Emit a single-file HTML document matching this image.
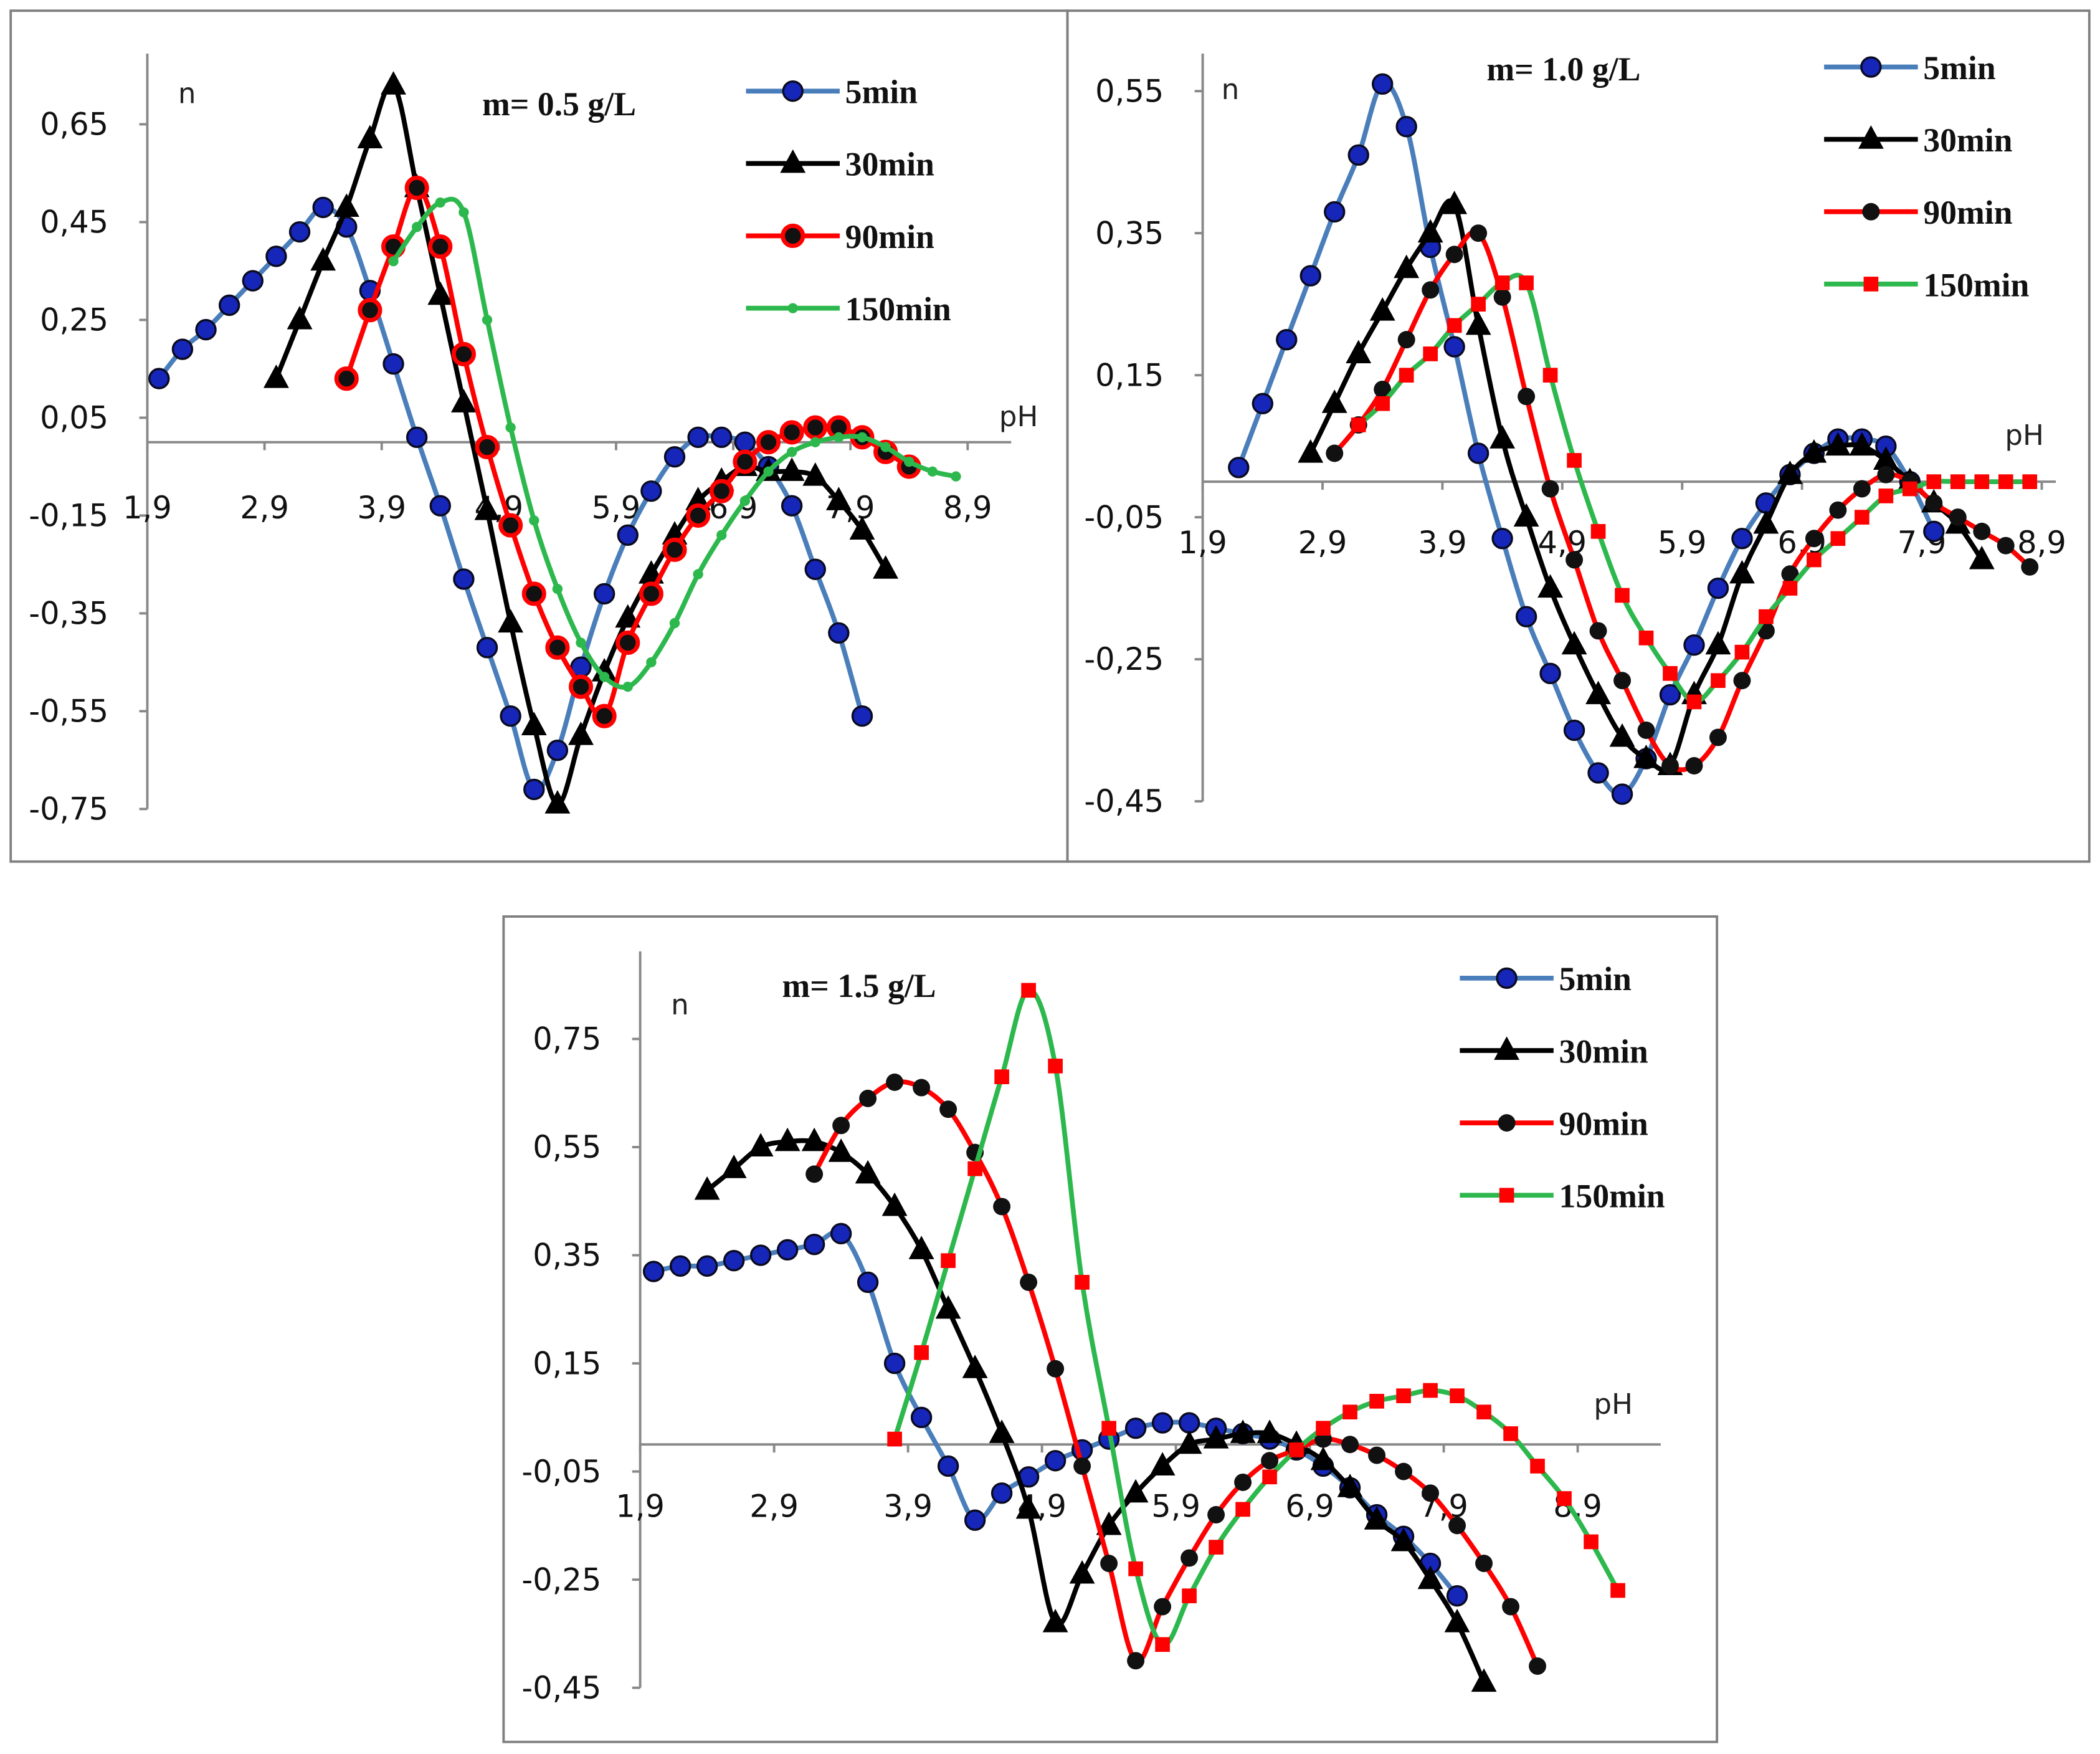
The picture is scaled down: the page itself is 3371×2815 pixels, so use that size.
<!DOCTYPE html>
<html><head><meta charset="utf-8"><style>
html,body{margin:0;padding:0;background:#fff;}
svg{display:block;}
.tick{font-family:"DejaVu Sans","Liberation Sans",sans-serif;font-size:23px;fill:#111;}
.ttl{font-family:"Liberation Serif",serif;font-weight:bold;font-size:25px;fill:#111;}
.leg{font-family:"Liberation Serif",serif;font-weight:bold;font-size:25px;fill:#111;}
.ax{font-family:"DejaVu Sans","Liberation Sans",sans-serif;font-size:21px;fill:#222;}
</style></head><body>
<svg id="fig" xmlns="http://www.w3.org/2000/svg" width="3371" height="2815" viewBox="0 0 1568 1309" preserveAspectRatio="none">
<rect x="0" y="0" width="1568" height="1309" fill="#fff"/>
</svg>
<script>
// ---- Data (pH step 0.2) ----
const xTicks = [1.9,2.9,3.9,4.9,5.9,6.9,7.9,8.9];
const yTicks1 = [0.65,0.45,0.25,0.05,-0.15,-0.35,-0.55,-0.75];
const yTicks2 = [0.55,0.35,0.15,-0.05,-0.25,-0.45];
const yTicks3 = [0.75,0.55,0.35,0.15,-0.05,-0.25,-0.45];
const seriesNames = ["5min","30min","90min","150min"];

// panel 1: m = 0.5 g/L
const p1_5_start = 2.0;
const p1_5 = [0.13,0.19,0.23,0.28,0.33,0.38,0.43,0.48,0.44,0.31,0.16,0.01,-0.13,-0.28,-0.42,-0.56,-0.71,-0.63,-0.46,-0.31,-0.19,-0.10,-0.03,0.01,0.01,0.0,-0.05,-0.13,-0.26,-0.39,-0.56];
const p1_30_start = 3.0;
const p1_30 = [0.13,0.25,0.37,0.48,0.62,0.73,0.52,0.30,0.08,-0.14,-0.37,-0.58,-0.74,-0.60,-0.47,-0.36,-0.27,-0.19,-0.12,-0.08,-0.05,-0.06,-0.06,-0.07,-0.12,-0.18,-0.26];
const p1_90_start = 3.6;
const p1_90 = [0.13,0.27,0.40,0.52,0.40,0.18,-0.01,-0.17,-0.31,-0.42,-0.50,-0.56,-0.41,-0.31,-0.22,-0.15,-0.10,-0.04,0.0,0.02,0.03,0.03,0.01,-0.02,-0.05];
const p1_150_start = 4.0;
const p1_150 = [0.37,0.44,0.49,0.47,0.25,0.03,-0.16,-0.30,-0.41,-0.48,-0.50,-0.45,-0.37,-0.27,-0.19,-0.12,-0.06,-0.02,0.0,0.01,0.01,-0.01,-0.04,-0.06,-0.07];

// panel 2: m = 1.0 g/L
const p2_5_start = 2.2;
const p2_5 = [0.02,0.11,0.20,0.29,0.38,0.46,0.56,0.50,0.33,0.19,0.04,-0.08,-0.19,-0.27,-0.35,-0.41,-0.44,-0.39,-0.30,-0.23,-0.15,-0.08,-0.03,0.01,0.04,0.06,0.06,0.05,0.0,-0.07];
const p2_30_start = 2.8;
const p2_30 = [0.04,0.11,0.18,0.24,0.30,0.35,0.39,0.22,0.06,-0.05,-0.15,-0.23,-0.30,-0.36,-0.39,-0.40,-0.30,-0.23,-0.13,-0.06,0.01,0.04,0.05,0.05,0.03,0.0,-0.03,-0.06,-0.11];
const p2_90_start = 3.0;
const p2_90 = [0.04,0.08,0.13,0.20,0.27,0.32,0.35,0.26,0.12,-0.01,-0.11,-0.21,-0.28,-0.35,-0.40,-0.40,-0.36,-0.28,-0.21,-0.13,-0.08,-0.04,-0.01,0.01,0.0,-0.03,-0.05,-0.07,-0.09,-0.12];
const p2_150_start = 3.2;
const p2_150 = [0.08,0.11,0.15,0.18,0.22,0.25,0.28,0.28,0.15,0.03,-0.07,-0.16,-0.22,-0.27,-0.31,-0.28,-0.24,-0.19,-0.15,-0.11,-0.08,-0.05,-0.02,-0.01,0.0,0.0,0.0,0.0,0.0];

// panel 3: m = 1.5 g/L
const p3_5_start = 2.0;
const p3_5 = [0.32,0.33,0.33,0.34,0.35,0.36,0.37,0.39,0.30,0.15,0.05,-0.04,-0.14,-0.09,-0.06,-0.03,-0.01,0.01,0.03,0.04,0.04,0.03,0.02,0.01,-0.01,-0.04,-0.08,-0.13,-0.17,-0.22,-0.28];
const p3_30_start = 2.4;
const p3_30 = [0.47,0.51,0.55,0.56,0.56,0.54,0.50,0.44,0.36,0.25,0.14,0.02,-0.12,-0.33,-0.24,-0.15,-0.09,-0.04,0.0,0.01,0.02,0.02,0.0,-0.03,-0.08,-0.14,-0.18,-0.25,-0.33,-0.44];
const p3_90_start = 3.2;
const p3_90 = [0.50,0.59,0.64,0.67,0.66,0.62,0.54,0.44,0.30,0.14,-0.04,-0.22,-0.40,-0.30,-0.21,-0.13,-0.07,-0.03,-0.01,0.01,0.0,-0.02,-0.05,-0.09,-0.15,-0.22,-0.30,-0.41];
const p3_150_start = 3.8;
const p3_150 = [0.01,0.17,0.34,0.51,0.68,0.84,0.70,0.30,0.03,-0.23,-0.37,-0.28,-0.19,-0.12,-0.06,-0.01,0.03,0.06,0.08,0.09,0.10,0.09,0.06,0.02,-0.04,-0.10,-0.18,-0.27];

const NS = "http://www.w3.org/2000/svg";
const fig = document.getElementById('fig');
function mk(tag, attrs, parent){ const e=document.createElementNS(NS,tag); for(const k in attrs) e.setAttribute(k,attrs[k]); (parent||fig).appendChild(e); return e; }
function smooth(pts){
  let d="M"+pts[0][0]+","+pts[0][1];
  for(let i=0;i<pts.length-1;i++){
    const p0=pts[Math.max(0,i-1)],p1=pts[i],p2=pts[i+1],p3=pts[Math.min(pts.length-1,i+2)];
    const c1=[p1[0]+(p2[0]-p0[0])/6,p1[1]+(p2[1]-p0[1])/6];
    const c2=[p2[0]-(p3[0]-p1[0])/6,p2[1]-(p3[1]-p1[1])/6];
    d+=" C"+c1[0].toFixed(1)+","+c1[1].toFixed(1)+" "+c2[0].toFixed(1)+","+c2[1].toFixed(1)+" "+p2[0].toFixed(1)+","+p2[1].toFixed(1);
  }
  return d;
}
function marker(g,type,x,y){
  let m;
  if(type==="bcircle"){ m=mk('circle',{cx:x,cy:y,r:7.2,fill:'#1526b8',stroke:'#0a0a20','stroke-width':1.6},g); }
  else if(type==="tri"){ m=mk('polygon',{points:(x)+","+(y-10.5)+" "+(x-9.5)+","+(y+7)+" "+(x+9.5)+","+(y+7),fill:'#000'},g); }
  else if(type==="rcircle"){ m=mk('circle',{cx:x,cy:y,r:7.5,fill:'#111',stroke:'#f00','stroke-width':3.2},g); }
  else if(type==="kcircle"){ m=mk('circle',{cx:x,cy:y,r:6.5,fill:'#111'},g); }
  else if(type==="gdot"){ m=mk('circle',{cx:x,cy:y,r:3.8,fill:'#2db84d'},g); }
  else if(type==="rsq"){ m=mk('rect',{x:x-5.5,y:y-5.5,width:11,height:11,fill:'#f00'},g); }
  
  
}
const styles = [
  {line:'#4a7ebb',w:3.6},{line:'#000',w:3.6},{line:'#f00',w:3.6},{line:'#2db84d',w:3.6}
];
function panel(cfg){
  const g=mk('g',{});
  
  
  const box=mk('rect',{x:cfg.box[0],y:cfg.box[1],width:cfg.box[2],height:cfg.box[3],fill:'none',stroke:'#808080','stroke-width':1.8},g);
  
  
  const X=ph=>cfg.x0+(ph-1.9)*cfg.xs, Y=n=>cfg.y0-n*cfg.ys;
  const ya=mk('line',{x1:cfg.x0,y1:cfg.ytop,x2:cfg.x0,y2:Y(cfg.yt[cfg.yt.length-1]),stroke:'#888','stroke-width':1.8},g);
  
  
  const xa=mk('line',{x1:cfg.x0,y1:cfg.y0,x2:cfg.xend,y2:cfg.y0,stroke:'#888','stroke-width':1.8},g);
  
  
  cfg.yt.forEach(v=>{
    mk('line',{x1:cfg.x0-6,y1:Y(v),x2:cfg.x0,y2:Y(v),stroke:'#888','stroke-width':1.8},g);
    const t=mk('text',{x:cfg.x0-29,y:Y(v)+8,'text-anchor':'end',class:'tick'},g);
    t.textContent=v.toFixed(2).replace('.',',');
    
    
  });
  xTicks.forEach(v=>{
    if(X(v)>cfg.xend+5) return;
    mk('line',{x1:X(v),y1:cfg.y0,x2:X(v),y2:cfg.y0+6,stroke:'#888','stroke-width':1.8},g);
    const t=mk('text',{x:X(v),y:cfg.xly,'text-anchor':'middle',class:'tick'},g);
    t.textContent=v.toFixed(1).replace('.',',');
    
    
  });
  const n=mk('text',{x:cfg.nlab[0],y:cfg.nlab[1],class:'ax'},g); n.textContent='n';
   
  const ph=mk('text',{x:cfg.phlab[0],y:cfg.phlab[1],class:'ax'},g); ph.textContent='pH';
   
  const tt=mk('text',{x:cfg.title[0],y:cfg.title[1],class:'ttl'},g); tt.textContent=cfg.titleText;
   
  cfg.series.forEach((s,i)=>{
    const sg=mk('g',{},g);
    
    
    const pts=s.vals.map((v,k)=>[X(s.start+0.2*k),Y(v)]);
    const p=mk('path',{d:smooth(pts),fill:'none',stroke:styles[i].line,'stroke-width':styles[i].w},sg);
    
    
    pts.forEach(q=>marker(sg,cfg.markers[i],q[0],q[1]));
    const ly=cfg.leg[1]+i*54;
    const lg=mk('g',{},g);
    
    
    mk('line',{x1:cfg.leg[0],y1:ly,x2:cfg.leg[0]+70,y2:ly,stroke:styles[i].line,'stroke-width':3.6},lg);
    marker(lg,cfg.markers[i],cfg.leg[0]+35,ly);
    const lt=mk('text',{x:cfg.leg[0]+74,y:ly+9,class:'leg'},lg); lt.textContent=seriesNames[i];
  });
}
panel({name:'panel-m05',box:[8,8,789,635],x0:110,xs:87.5,y0:330,ys:365,ytop:40,xend:755,xly:387,yt:yTicks1,
  nlab:[133,77],phlab:[746,318],title:[360,86],titleText:'m= 0.5 g/L',leg:[557,68],
  markers:['bcircle','tri','rcircle','gdot'],
  series:[{start:p1_5_start,vals:p1_5},{start:p1_30_start,vals:p1_30},{start:p1_90_start,vals:p1_90},{start:p1_150_start,vals:p1_150}]});
panel({name:'panel-m10',box:[797,8,763,635],x0:898,xs:89.5,y0:359.5,ys:530,ytop:40,xend:1535,xly:413,yt:yTicks2,
  nlab:[912,74],phlab:[1497,332],title:[1110,60],titleText:'m= 1.0 g/L',leg:[1362,50],
  markers:['bcircle','tri','kcircle','rsq'],
  series:[{start:p2_5_start,vals:p2_5},{start:p2_30_start,vals:p2_30},{start:p2_90_start,vals:p2_90},{start:p2_150_start,vals:p2_150}]});
panel({name:'panel-m15',box:[376,684,906,616],x0:478,xs:100,y0:1078,ys:403.5,ytop:710,xend:1240,xly:1132,yt:yTicks3,
  nlab:[501,757],phlab:[1190,1055],title:[584,744],titleText:'m= 1.5 g/L',leg:[1090,730],
  markers:['bcircle','tri','kcircle','rsq'],
  series:[{start:p3_5_start,vals:p3_5},{start:p3_30_start,vals:p3_30},{start:p3_90_start,vals:p3_90},{start:p3_150_start,vals:p3_150}]});
</script>
</body></html>
